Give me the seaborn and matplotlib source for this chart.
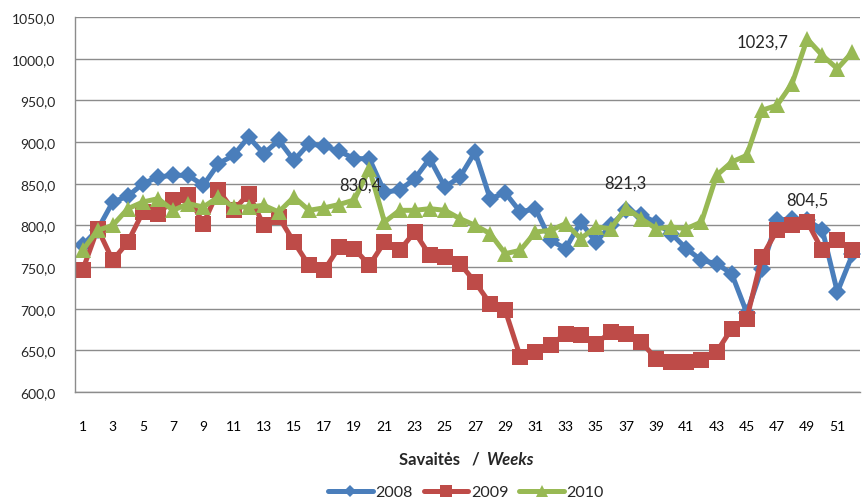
import numpy as np
import pandas as pd
import matplotlib
matplotlib.use("Agg")
import matplotlib.pyplot as plt
import seaborn as sns
from matplotlib.lines import Line2D

weeks = list(range(1, 53))
years = ["2008", "2009", "2010"]
v2008 = [776, 795, 828, 835, 850, 858, 860, 860, 848, 874, 884, 906, 886, 902, 878, 898,
         895, 889, 880, 880, 840, 842, 856, 880, 846, 858, 888, 832, 839, 816, 820, 782,
         772, 804, 780, 800, 818, 813, 803, 790, 772, 758, 754, 742, 695, 748, 806, 808,
         806, 795, 720, 765]
v2009 = [746, 796, 758, 780, 816, 814, 830, 836, 802, 842, 818, 838, 800, 810, 780, 752,
         746, 774, 772, 752, 780, 770, 792, 764, 762, 754, 732, 706, 698, 642, 648, 656,
         670, 668, 658, 672, 670, 660, 640, 636, 636, 638, 648, 676, 688, 762, 794, 800,
         804.5, 770, 782, 771]
v2010 = [770, 794, 800, 820, 828, 832, 818, 826, 822, 834, 822, 822, 824, 816, 834, 818,
         821, 825, 830.4, 868, 804, 818, 818, 820, 818, 808, 800, 790, 766, 770, 792, 794,
         802, 784, 798, 796, 821.3, 808, 796, 798, 796, 804, 860, 876, 884, 938, 944, 970,
         1023.7, 1004, 988, 1008]
yticks = [600, 650, 700, 750, 800, 850, 900, 950, 1000, 1050]
xtick_weeks = list(range(1, 52, 2))

colors = {"2008": "#4A7EBB", "2009": "#BE4B48", "2010": "#98B954"}
markers = {"2008": "D", "2009": "s", "2010": "^"}
msize = {"2008": 9, "2009": 11.5, "2010": 12}

df = pd.DataFrame({
    "week": weeks * 3,
    "value": v2008 + v2009 + v2010,
    "year": ["2008"] * 52 + ["2009"] * 52 + ["2010"] * 52,
})

sns.set_theme(style="white")
plt.rcParams["font.family"] = ["Lato", "DejaVu Sans"]

W, H = 863, 502
fig = plt.figure(figsize=(W / 100, H / 100), dpi=100)
ax = fig.add_axes([75 / W, 1 - 393 / H, (860 - 75) / W, (393 - 18) / H])

for yr in years:
    sub = df[df["year"] == yr]
    sns.lineplot(data=sub, x="week", y="value", ax=ax, color=colors[yr],
                 marker=markers[yr], markersize=msize[yr], linewidth=3.6,
                 markeredgewidth=0, label=yr, legend=False)

ax.set_xlim(0.5, 52.5)
ax.set_ylim(600, 1050)
ax.set_yticks(yticks)
ax.set_yticklabels([f"{v:.1f}".replace(".", ",") for v in yticks], fontsize=10)
ax.set_xticks(xtick_weeks)
ax.set_xticklabels([str(w) for w in xtick_weeks], fontsize=10)
ax.set_xticks(np.arange(0.5, 53, 1), minor=True)
ax.tick_params(axis="x", which="major", length=0, pad=20, colors="#000000")
ax.tick_params(axis="x", which="minor", length=5, width=1, color="#8c8c8c", direction="out")
ax.tick_params(axis="y", which="major", length=5, width=1, color="#8c8c8c", direction="out", pad=9)
ax.yaxis.grid(True, color="#8c8c8c", linewidth=1)
ax.xaxis.grid(False)
ax.set_axisbelow(True)
for s in ["top", "right"]:
    ax.spines[s].set_visible(False)
for s in ["left", "bottom"]:
    ax.spines[s].set_color("#8c8c8c")
    ax.spines[s].set_linewidth(1)
ax.set_xlabel("")
ax.set_ylabel("")

# data labels
def lab(v):
    return f"{v:.1f}".replace(".", ",")

ann = [(v2010, 19, (6, 15)), (v2010, 37, (-1, 25)), (v2009, 49, (0, 22)), (v2010, 49, (-45, -3))]
for arr, wk, off in ann:
    ax.annotate(lab(arr[wk - 1]), xy=(wk, arr[wk - 1]), xytext=off,
                textcoords="offset pixels", ha="center", va="center", fontsize=12)

# x axis title
fig.text(480 / W, 1 - 460 / H, "Savaitės   /", ha="right", va="center",
         fontsize=12, fontweight="bold")
fig.text(486 / W, 1 - 460 / H, "Weeks", ha="left", va="center",
         fontsize=12, fontweight="bold", fontstyle="italic")

handles = [Line2D([0], [0], color=colors[y], marker=markers[y], markersize=msize[y] * 0.7,
                  linewidth=3.6, markeredgewidth=0) for y in years]
fig.legend(handles, years, loc="center", bbox_to_anchor=(466 / W, 1 - 493 / H), ncol=3,
           frameon=False, fontsize=11.5, handlelength=2.8, columnspacing=0.7,
           handletextpad=0.15)

fig.savefig("out.png", dpi=100)
